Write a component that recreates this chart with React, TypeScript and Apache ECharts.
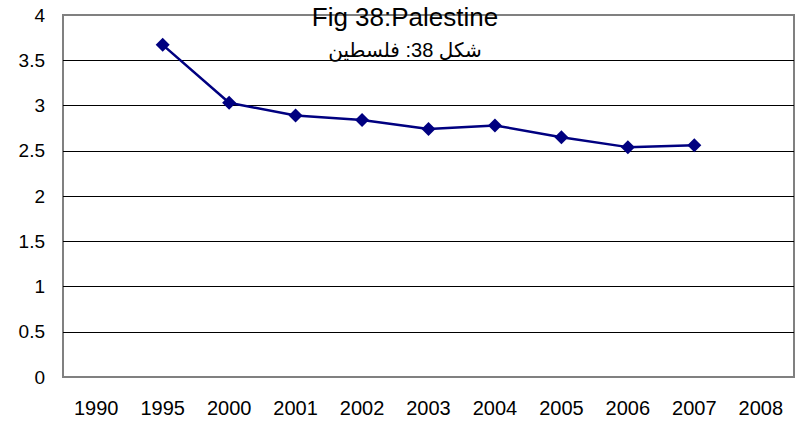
import React, { useEffect, useRef } from "react";
import * as echarts from "echarts";

const categories = ["1990", "1995", "2000", "2001", "2002", "2003", "2004", "2005", "2006", "2007", "2008"];
const values: (number | null)[] = [null, 3.67, 3.03, 2.89, 2.84, 2.74, 2.78, 2.65, 2.54, 2.56, null];
const titleText = "Fig 38:Palestine";
const subtitleText = "شكل 38: فلسطين";

export default function App() {
  const ref = useRef<HTMLDivElement>(null);
  useEffect(() => {
    if (!ref.current) return;
    const chart = echarts.init(ref.current, null, { renderer: "svg" });
    const font = 'Arial, "Liberation Sans", "DejaVu Sans", sans-serif';
    chart.setOption({
      animation: false,
      backgroundColor: "#ffffff",
      grid: {
        left: 63,
        right: 2,
        top: 15,
        bottom: 45,
        containLabel: false,
        show: true,
        borderColor: "#808080",
        borderWidth: 2,
        backgroundColor: "transparent",
      },
      xAxis: {
        type: "category",
        data: categories,
        boundaryGap: true,
        axisLine: { show: true, lineStyle: { color: "#808080", width: 2 } },
        axisTick: { show: false },
        axisLabel: { color: "#000", fontSize: 20, fontFamily: font, margin: 21, interval: 0 },
        splitLine: { show: false },
      },
      yAxis: {
        type: "value",
        min: 0,
        max: 4,
        interval: 0.5,
        axisLine: { show: false },
        axisTick: { show: false },
        axisLabel: { color: "#000", fontSize: 19, fontFamily: font, margin: 18 },
        splitLine: { show: true, showMinLine: false, showMaxLine: false, lineStyle: { color: "#000", width: 1 } },
      },
      series: [
        {
          type: "line",
          data: values,
          connectNulls: false,
          symbol: "diamond",
          symbolSize: 14,
          lineStyle: { color: "#000080", width: 2.5 },
          itemStyle: { color: "#000080" },
        },
      ],
      graphic: [
        {
          type: "text",
          x: 405,
          y: 17,
          z: 100,
          style: {
            text: titleText,
            fill: "#000",
            font: `26px ${font}`,
            textAlign: "center",
            textVerticalAlign: "middle",
          },
        },
        {
          type: "text",
          x: 405,
          y: 50,
          z: 100,
          style: {
            text: subtitleText,
            fill: "#000",
            font: `20px ${font}`,
            textAlign: "center",
            textVerticalAlign: "middle",
          },
        },
      ],
    });
    return () => chart.dispose();
  }, []);
  return <div ref={ref} style={{ width: 796, height: 422, position: "fixed", left: 0, top: 0 }} />;
}
